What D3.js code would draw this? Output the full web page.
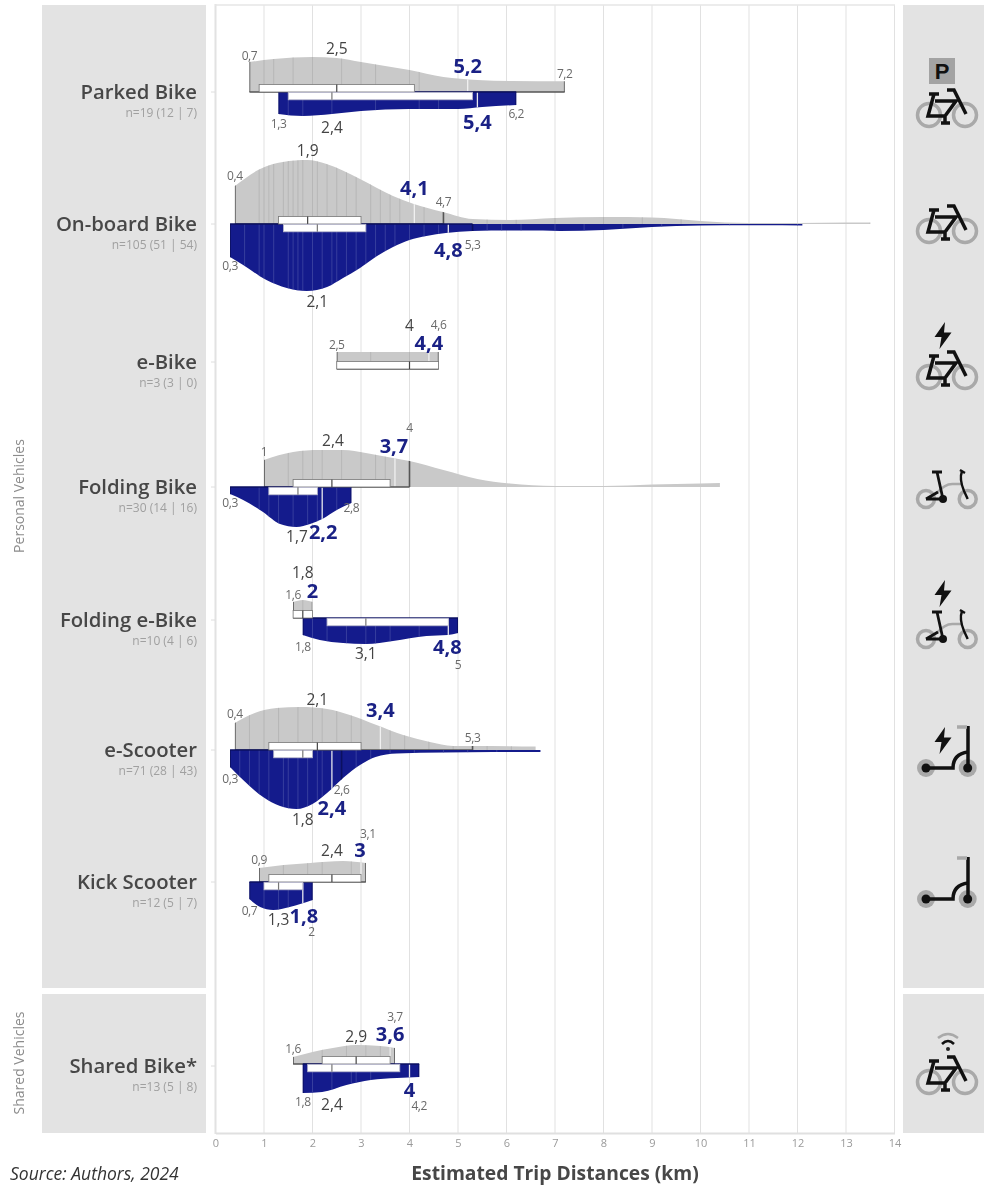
<!DOCTYPE html>
<html>
<head>
<meta charset="utf-8">
<script src="https://cdn.jsdelivr.net/npm/d3@7"></script>
<style>
html,body{margin:0;padding:0;background:#fff;overflow:hidden}
svg{display:block;opacity:.999}
text{font-family:"Open Sans","Noto Sans",sans-serif}
</style>
</head>
<body>
<svg id="chart" width="984" height="1185"></svg>
<script>
// ---------- DATA (km, relative density, summary statistics) ----------
const categories = ["Parked Bike","On-board Bike","e-Bike","Folding Bike","Folding e-Bike","e-Scooter","Kick Scooter","Shared Bike*"];
const sampleLabels = ["n=19 (12 | 7)","n=105 (51 | 54)","n=3 (3 | 0)","n=30 (14 | 16)","n=10 (4 | 6)","n=71 (28 | 43)","n=12 (5 | 7)","n=13 (5 | 8)"];
const distanceTicks = d3.range(0,15);

const grayDensity = [
 [[.7,30],[1.2,33],[2,35],[2.5,34],[3,30],[3.5,26],[4,22],[4.7,15],[5.4,12],[6.1,11],[7.2,10.7]],
 [[.4,38],[.92,55],[1.39,62],[1.89,64],[2.29,60],[2.98,45],[3.66,28],[4.09,20],[4.69,12],[5.3,5],[6.07,4],[7,6],[8,7],[9,6.5],[9.5,5],[10,3],[11,1],[12,1],[13,1.5],[13.5,1.5]],
 [[2.5,17],[3.5,17],[4.6,17]],
 [[1,27],[1.6,35],[2.15,37],[2.63,37],[3.1,34],[3.66,29],[4,26],[4.7,17],[5.4,8],[6.07,3.5],[7,1],[8,1],[9,2.5],[10,3.5],[10.4,4]],
 [[1.6,16],[1.8,18],[2,16]],
 [[.4,27],[.71,35],[1.26,42],[1.74,43],[2.3,41],[2.77,35],[3.32,25],[3.87,15],[4.42,8],[4.9,4],[5.3,4],[6.6,3.5]],
 [[.9,14],[1.4,17],[1.95,19],[2.63,21],[3.1,19]],
 [[1.6,7],[2,12],[2.42,16],[2.9,19],[3.4,18],[3.7,16]]
];
const blueDensity = [
 [[1.3,22],[1.8,24],[2.4,22],[3,19],[4,17],[5,17],[5.5,15],[6.2,13]],
 [[.3,33],[.57,41],[1.05,56],[1.47,64],[1.88,67],[2.3,63],[2.63,54],[2.98,44],[3.3,33],[3.66,23],[4,16],[4.35,12],[4.75,9],[5.3,7],[6.07,6.5],[6.75,6.5],[7.1,7],[8,6],[9,3],[10,1.5],[11,1.2],[12.1,1.5]],
 [],
 [[.3,7],[.57,13],[.98,25],[1.33,37],[1.67,40],[1.95,37],[2.2,32],[2.5,23],[2.8,16]],
 [[1.8,17],[2.15,22],[2.63,25],[3.1,26],[3.66,23],[4.35,18],[4.79,17],[5,15]],
 [[.3,17],[.57,30],[.98,47],[1.33,56],[1.67,59],[2,54],[2.3,43],[2.63,28],[2.98,15],[3.3,7],[3.74,3.5],[4.7,2.5],[5.72,2],[6.7,2]],
 [[.7,17],[.92,25],[1.19,28],[1.53,25],[2,18]],
 [[1.8,29],[2.2,28],[2.7,21],[3.2,16],[3.74,14],[4.2,13]]
];
// summary: min, q1, median, q3, p90, max
const grayStats = [[.7,.9,2.5,4.1,5.2,7.2],[.4,1.3,1.9,3,4.1,4.7],[2.5,2.5,4,4.6,4.4,4.6],[1,1.6,2.4,3.6,3.7,4],[1.6,1.6,1.8,2,2,2],[.4,1.1,2.1,3,3.4,5.3],[.9,1.1,2.4,3,3,3.1],[1.6,2.2,2.9,3.6,3.6,3.7]];
const blueStats = [[1.3,1.5,2.4,5.3,5.4,6.2],[.3,1.4,2.1,3.1,4.8,5.3],null,[.3,1.1,1.7,2.1,2.2,2.8],[1.8,2.3,3.1,4.8,4.8,5],[.3,1.2,1.8,2,2.4,2.6],[.7,1,1.3,1.8,1.8,2],[1.8,1.9,2.4,3.8,4,4.2]];
const grayTrips = [
 [1,1.2,1.6,2,2.6,3,3.3,4,4.2],
 [.9,1,1.1,1.2,1.4,1.5,1.6,1.7,1.8,2,2.1,2.3,2.5,2.7,2.9,3.2,3.4,3.6,3.8,4.3,5.6,6.2,7,8,8.8,9.6,13.5],
 [3.2,4],
 [1.5,1.8,2,2.2,2.6,3,3.3,3.5],
 [1.8],
 [.7,1,1.3,1.7,2,2.2,2.5,2.8,3,3.6,3.9,4.4,4.9,5.6,6.1],
 [1.4,1.9,2.2,2.8],
 [2.2,2.7,3.1,3.4,3.6]
];
const blueTrips = [
 [1.5,1.8,2.4,3.3,4.2,4.6],
 [.6,.9,1,1.2,1.5,1.6,1.7,1.8,2,2.2,2.4,2.5,2.7,2.9,3.1,3.3,3.5,3.7,4,4.3,4.6,5.6,5.9,6.3,7,7.6,8.4,9.2,10.6,12],
 [],
 [.9,1.1,1.3,1.6,1.9,2.1,2.5],
 [2,2.3,2.7,3.1,3.3,3.6,4.2],
 [.5,.7,.9,1.1,1.4,1.5,1.7,1.9,2.1,2.2,2.9,3.2,3.6,4.1,4.7,5.2,5.8],
 [1,1.3,1.5],
 [2,2.4,2.8,2.9,3.2]
];
// value label, kind (s = extreme, m = median, b = 90th percentile)
const valueLabels = [
 [[.7,"s"],[2.5,"m"],[5.2,"b"],[7.2,"s"],[1.3,"s"],[2.4,"m"],[5.4,"b"],[6.2,"s"]],
 [[.4,"s"],[1.9,"m"],[4.1,"b"],[4.7,"s"],[.3,"s"],[2.1,"m"],[4.8,"b"],[5.3,"s"]],
 [[2.5,"s"],[4,"m"],[4.6,"s"],[4.4,"b"]],
 [[1,"s"],[2.4,"m"],[3.7,"b"],[4,"s"],[.3,"s"],[2.8,"s"],[1.7,"m"],[2.2,"b"]],
 [[1.8,"m"],[2,"b"],[1.6,"s"],[1.8,"s"],[3.1,"m"],[4.8,"b"],[5,"s"]],
 [[.4,"s"],[2.1,"m"],[3.4,"b"],[5.3,"s"],[.3,"s"],[2.6,"s"],[2.4,"b"],[1.8,"m"]],
 [[.9,"s"],[2.4,"m"],[3,"b"],[3.1,"s"],[.7,"s"],[1.3,"m"],[1.8,"b"],[2,"s"]],
 [[1.6,"s"],[2.9,"m"],[3.6,"b"],[3.7,"s"],[1.8,"s"],[2.4,"m"],[4,"b"],[4.2,"s"]]
];

// ---------- LAYOUT ----------
const rowBase = [92,224,369,487,618,750,882,1064];
const rowText = [92,224,362,487,620,750,882,1066];
const labelNudge = [ // dx, dy from the value on the row baseline
 [[0,-36],[0,-44],[0,-26],[0,-18],[0,32],[0,35],[0,30],[0,22]],
 [[0,-48],[0,-74],[0,-36],[0,-22],[0,42],[0,77],[0,26],[0,21]],
 [[0,-24],[0,-44],[0,-44],[0,-26]],
 [[0,-35],[1,-47],[-1,-41],[0,-59],[0,16],[0,21],[-1,49],[1,45]],
 [[0,-46],[0,-27],[0,-23],[0,29],[0,35],[-1,29],[0,47]],
 [[0,-36],[0,-51],[0,-40],[0,-12],[0,29],[0,40],[0,58],[0,69]],
 [[0,-22],[0,-32],[-1,-32],[2,-48],[0,29],[0,37],[1,34],[-1,50]],
 [[0,-15],[0,-28],[0,-30],[0,-47],[0,38],[0,40],[0,26],[0,42]]
];
const iconKind = ["parked","bike","ebike","fold","efold","escooter","kick","shared"];
const iconBase = [115,231,377,499,639,768,899,1082];

const GRAY="#c9c9c9", BLUE="#141b8c", INK="#474747", PANEL="#e3e3e3", GRID="#e1e1e1";
const svg=d3.select("#chart");
const x=d3.scaleLinear().domain([0,14]).range([215.5,894.5]);
const h=d3.scaleLinear().domain([0,67]).range([0,67]);

// panels
const panels=[[42,5,164,983],[42,994,164,139],[903,5,81,983],[903,994,81,139]];
svg.append("g").selectAll("rect").data(panels).join("rect")
 .attr("x",d=>d[0]).attr("y",d=>d[1]).attr("width",d=>d[2]).attr("height",d=>d[3]).attr("fill",PANEL);

// grid and axis
svg.append("g").selectAll("line").data(distanceTicks.slice(1)).join("line")
 .attr("x1",d=>x(d)).attr("x2",d=>x(d)).attr("y1",5).attr("y2",1133)
 .attr("stroke",GRID).attr("stroke-width",1);
svg.append("line").attr("x1",215.5).attr("x2",215.5).attr("y1",4).attr("y2",1134).attr("stroke","#e2e2e2").attr("stroke-width",2);
svg.append("line").attr("x1",215).attr("x2",895).attr("y1",5).attr("y2",5).attr("stroke","#e6e6e6").attr("stroke-width",1.5);
const axis=svg.append("g").attr("transform","translate(0,1133)")
 .call(d3.axisBottom(x).tickValues(distanceTicks).tickSize(0).tickPadding(6).tickFormat(d3.format("d")));
axis.select(".domain").attr("stroke","#e0e0e0").attr("stroke-width",2);
axis.selectAll("text").attr("font-size",11).attr("fill","#9a9a9a").attr("font-family",'"Open Sans",sans-serif');
svg.append("g").selectAll("line").data(rowText).join("line")
 .attr("x1",211).attr("x2",215).attr("y1",d=>d).attr("y2",d=>d).attr("stroke","#dedede");

// category names
categories.forEach((c,i)=>{
 svg.append("text").attr("x",197).attr("y",rowText[i]+7).attr("text-anchor","end")
  .attr("font-size",20.3).attr("font-weight",600).attr("fill",INK).text(c);
 svg.append("text").attr("x",197).attr("y",rowText[i]+25).attr("text-anchor","end")
  .attr("font-size",12).attr("fill","#a0a0a0").text(sampleLabels[i]);
});
[["Personal Vehicles",496],["Shared Vehicles",1063]].forEach(g=>{
 svg.append("text").attr("transform",`translate(24,${g[1]}) rotate(-90)`).attr("text-anchor","middle")
  .attr("font-size",14).attr("fill","#8c8c8c").text(g[0]);
});
svg.append("text").attr("x",555).attr("y",1180).attr("text-anchor","middle").attr("font-size",19.3)
 .attr("font-weight",700).attr("fill",INK).text("Estimated Trip Distances (km)");
svg.append("text").attr("x",10).attr("y",1180).attr("font-size",17.5).attr("font-style","italic").attr("fill","#333").text("Source: Authors, 2024");

// density rows
const defs=svg.append("defs");
function half(i,dens,stats,trips,sign,fill,rug,capColor,side){
 if(!dens.length) return;
 const base=rowBase[i];
 const area=d3.area().curve(d3.curveMonotoneX).x(d=>x(d[0])).y0(base).y1(d=>base+sign*h(d[1]));
 const id="clip"+side+i;
 defs.append("clipPath").attr("id",id).append("path").attr("d",area(dens));
 const g=svg.append("g");
 g.append("path").attr("d",area(dens)).attr("fill",fill);
 const inner=g.append("g").attr("clip-path",`url(#${id})`);
 const span=o=>inner.selectAll(null).data(o.v).join("line")
  .attr("x1",d=>x(d)).attr("x2",d=>x(d)).attr("y1",base).attr("y2",base+sign*80)
  .attr("stroke",o.c).attr("stroke-width",o.w).attr("stroke-opacity",o.a);
 span({v:trips,c:rug,w:1,a:.65});
 span({v:[stats[0],stats[5]],c:capColor,w:1.6,a:1});
 span({v:[stats[4]],c:"#f2f2f2",w:1.3,a:.95});
 g.append("line").attr("x1",x(stats[0])).attr("x2",x(stats[5])).attr("y1",base).attr("y2",base)
  .attr("stroke",capColor).attr("stroke-width",1.4);
}
function box(i,stats,sign,edge,medColor){
 const base=rowBase[i], bh=7.5;
 const top=sign<0?base-bh:base+0.3;
 svg.append("rect").attr("x",x(stats[1])).attr("width",x(stats[3])-x(stats[1]))
  .attr("y",top).attr("height",bh).attr("fill","#fff").attr("stroke",edge).attr("stroke-width",.8);
 svg.append("line").attr("x1",x(stats[2])).attr("x2",x(stats[2])).attr("y1",top).attr("y2",top+bh)
  .attr("stroke",medColor).attr("stroke-width",1.2);
}
categories.forEach((c,i)=>{
 half(i,grayDensity[i],grayStats[i],grayTrips[i],-1,GRAY,"#adadad","#555","g");
 if(blueStats[i]) half(i,blueDensity[i],blueStats[i],blueTrips[i],1,BLUE,"#4a52a8","#0b1060","b");
});
categories.forEach((c,i)=>{
 box(i,grayStats[i],-1,"#777","#444");
 if(blueStats[i]) box(i,blueStats[i],1,"#b4b4c8","#777");
});

// value labels
const sizes={s:12,m:15.5,b:20}, fills={s:"#6a6a6a",m:"#444",b:"#1a2185"}, weights={s:400,m:400,b:700};
const comma=v=>String(v).replace(".",",");
valueLabels.forEach((row,i)=>{
 svg.append("g").selectAll("text").data(row).join("text")
  .attr("x",(d,k)=>x(d[0])+labelNudge[i][k][0])
  .attr("y",(d,k)=>rowBase[i]+labelNudge[i][k][1])
  .attr("dy",".36em").attr("text-anchor","middle")
  .attr("font-size",d=>sizes[d[1]]).attr("fill",d=>fills[d[1]]).attr("font-weight",d=>weights[d[1]])
  .attr("letter-spacing",d=>d[1]==="s"?-.4:0)
  .text(d=>comma(d[0]));
});

// icons
const BLACK="#111", WHEEL="#a9a9a9";
const bolt="M2 -13 L-8.5 2 L-1.5 2 L-3.5 14 L8.5 -2.5 L1 -2.5 Z";
function stroke(g,d,c,w){g.append("path").attr("d",d).attr("fill","none").attr("stroke",c).attr("stroke-width",w).attr("stroke-linecap","butt").attr("stroke-linejoin","miter");}
function bike(g){
 g.append("circle").attr("cx",-18).attr("r",11.5).attr("fill","none").attr("stroke",WHEEL).attr("stroke-width",3.5);
 g.append("circle").attr("cx",18).attr("r",11.5).attr("fill","none").attr("stroke",WHEEL).attr("stroke-width",3.5);
 stroke(g,"M-18 -21 L-8 -21 M-13 -21 L-19 1 L-2 1 L9 -14 L-12 -14 M-2 1 L-2 8 M-6 8 L3 8 M0 -25 L7 -25 L19 -1",BLACK,3.5);
}
function fold(g){
 [-21,20.7].forEach(c=>g.append("circle").attr("cx",c).attr("r",8.5).attr("fill","none").attr("stroke",WHEEL).attr("stroke-width",3.5));
 stroke(g,"M-10 -6 Q-2 -16 7 -15 L15 -15",WHEEL,2.5);
 stroke(g,"M-15 -27 L-5 -27 M-10 -27 L-4 0 M-21 0 L-9 -7 M-21 0 L-4 0",BLACK,2.8);
 stroke(g,"M13 -29 L18 -26 M15 -28 Q12 -20 17 -8 L20.7 0",BLACK,2.4);
 g.append("circle").attr("cx",-4).attr("r",4).attr("fill",BLACK);
}
function scooter(g){
 [-21,20.7].forEach(c=>{
  g.append("circle").attr("cx",c).attr("r",9).attr("fill",WHEEL);
  g.append("circle").attr("cx",c).attr("r",4.5).attr("fill",BLACK);
 });
 stroke(g,"M-21 0 L6 0 Q6 -14 21 -16",BLACK,3.5);
 stroke(g,"M21 0 L21 -42",BLACK,3.5);
 stroke(g,"M10 -41 L20 -41",WHEEL,3.5);
}
iconKind.forEach((k,i)=>{
 const g=svg.append("g").attr("transform",`translate(947,${iconBase[i]})`);
 if(["parked","bike","ebike","shared"].includes(k)) bike(g);
 if(["fold","efold"].includes(k)) fold(g);
 if(["escooter","kick"].includes(k)) scooter(g);
 if(k==="parked"){
  g.append("rect").attr("x",-18).attr("y",-57).attr("width",26).attr("height",26).attr("fill","#a3a3a3");
  g.append("text").attr("x",-5).attr("y",-36.5).style("font-family","'Liberation Sans',sans-serif").attr("text-anchor","middle").attr("font-size",22).attr("font-weight",700).attr("fill",BLACK).text("P");
 }
 if(k==="ebike") g.append("path").attr("d",bolt).attr("transform","translate(-4,-42)").attr("fill",BLACK);
 if(k==="efold") g.append("path").attr("d",bolt).attr("transform","translate(-4,-46)").attr("fill",BLACK);
 if(k==="escooter") g.append("path").attr("d",bolt).attr("transform","translate(-4,-28)").attr("fill",BLACK);
 if(k==="shared"){
  g.append("circle").attr("cx",1).attr("cy",-33).attr("r",2).attr("fill","#222");
  stroke(g,"M-5 -38 Q1 -44 7 -38",BLACK,2.5);
  stroke(g,"M-9 -44 Q1 -52 11 -44",WHEEL,2.5);
 }
});
</script>
</body>
</html>
